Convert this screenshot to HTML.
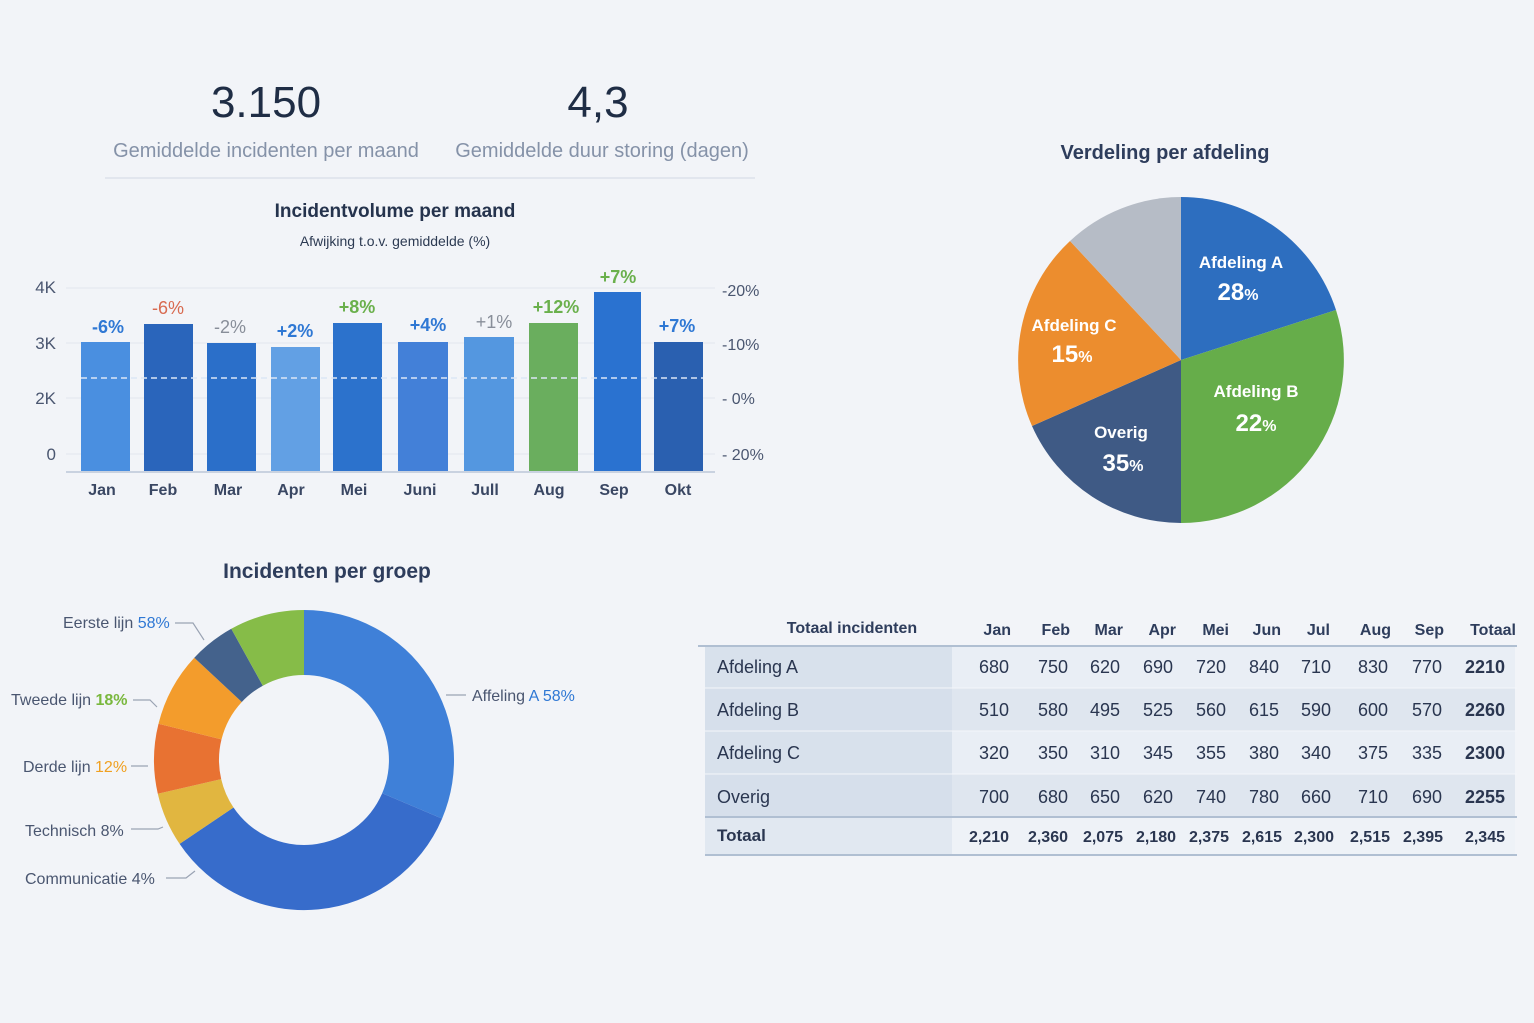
<!DOCTYPE html>
<html><head><meta charset="utf-8"><style>
html,body{margin:0;padding:0;background:#f2f4f8;}
svg{display:block;font-family:"Liberation Sans",sans-serif;}
</style></head><body>
<svg width="1534" height="1023" viewBox="0 0 1534 1023" xmlns="http://www.w3.org/2000/svg">
<rect width="1534" height="1023" fill="#f2f4f8"/>
<!-- KPIs -->
<text x="266" y="117" text-anchor="middle" font-size="44" fill="#1f2d45">3.150</text>
<text x="598" y="117" text-anchor="middle" font-size="44" fill="#1f2d45">4,3</text>
<text x="266" y="157" text-anchor="middle" font-size="20" fill="#8592a8">Gemiddelde incidenten per maand</text>
<text x="602" y="157" text-anchor="middle" font-size="20" fill="#8592a8">Gemiddelde duur storing (dagen)</text>
<line x1="105" y1="178" x2="755" y2="178" stroke="#dde2ea" stroke-width="1.5"/>
<!-- Bar chart -->
<text x="395" y="217" text-anchor="middle" font-size="19" font-weight="bold" fill="#25334d">Incidentvolume per maand</text>
<text x="395" y="246" text-anchor="middle" font-size="14" fill="#2c3a52">Afwijking t.o.v. gemiddelde (%)</text>
<g stroke="#e2e6ee" stroke-width="1">
<line x1="66" y1="288" x2="715" y2="288"/><line x1="66" y1="343" x2="715" y2="343"/><line x1="66" y1="398" x2="715" y2="398"/><line x1="66" y1="454" x2="715" y2="454"/>
</g>
<g font-size="17" fill="#4a5670" text-anchor="end">
<text x="56" y="293">4K</text><text x="56" y="349">3K</text><text x="56" y="404">2K</text><text x="56" y="460">0</text>
</g>
<g font-size="16" fill="#4a5670">
<text x="722" y="296">-20%</text><text x="722" y="350">-10%</text><text x="722" y="404">- 0%</text><text x="722" y="460">- 20%</text>
</g>
<rect x="81" y="342" width="49" height="130" fill="#4a8fe0"/>
<rect x="144" y="324" width="49" height="148" fill="#2a65bb"/>
<rect x="207" y="343" width="49" height="129" fill="#2b6fc9"/>
<rect x="271" y="347" width="49" height="125" fill="#62a0e4"/>
<rect x="333" y="323" width="49" height="149" fill="#2c72cc"/>
<rect x="398" y="342" width="50" height="130" fill="#4380d8"/>
<rect x="464" y="337" width="50" height="135" fill="#5497e0"/>
<rect x="529" y="323" width="49" height="149" fill="#6aae5e"/>
<rect x="594" y="292" width="47" height="180" fill="#2a72d0"/>
<rect x="654" y="342" width="49" height="130" fill="#2a60b0"/>
<line x1="81" y1="378" x2="703" y2="378" stroke="#dbe6f5" stroke-width="1.5" stroke-dasharray="6,4"/>
<line x1="66" y1="472" x2="715" y2="472" stroke="#c9d2e0" stroke-width="2"/>
<g font-size="18" font-weight="bold" text-anchor="middle">
<text x="108" y="333" fill="#2f78d4">-6%</text>
<text x="168" y="314" fill="#d86a50" font-weight="normal">-6%</text>
<text x="230" y="333" fill="#888e99" font-weight="normal">-2%</text>
<text x="295" y="337" fill="#2f78d4">+2%</text>
<text x="357" y="313" fill="#6ab04c">+8%</text>
<text x="428" y="331" fill="#2f78d4">+4%</text>
<text x="494" y="328" fill="#888e99" font-weight="normal">+1%</text>
<text x="556" y="313" fill="#6ab04c">+12%</text>
<text x="618" y="283" fill="#6ab04c">+7%</text>
<text x="677" y="332" fill="#2f78d4">+7%</text>
</g>
<g font-size="16" font-weight="bold" fill="#3a4763" text-anchor="middle">
<text x="102" y="495">Jan</text><text x="163" y="495">Feb</text><text x="228" y="495">Mar</text><text x="291" y="495">Apr</text><text x="354" y="495">Mei</text><text x="420" y="495">Juni</text><text x="485" y="495">Jull</text><text x="549" y="495">Aug</text><text x="614" y="495">Sep</text><text x="678" y="495">Okt</text>
</g>
<!-- Pie -->
<text x="1165" y="159" text-anchor="middle" font-size="20" font-weight="bold" fill="#2e3d5c">Verdeling per afdeling</text>
<path d="M1181,360 L1181,197 A163,163 0 0 1 1336,310 Z" fill="#2d6ebf"/>
<path d="M1181,360 L1336,310 A163,163 0 0 1 1181,523 Z" fill="#66ad4a"/>
<path d="M1181,360 L1181,523 A163,163 0 0 1 1032,426 Z" fill="#3f5a85"/>
<path d="M1181,360 L1032,426 A163,163 0 0 1 1070,241 Z" fill="#ec8d2e"/>
<path d="M1181,360 L1070,241 A163,163 0 0 1 1181,197 Z" fill="#b6bcc6"/>
<g fill="#fff" font-weight="bold" text-anchor="middle">
<text x="1241" y="268" font-size="17">Afdeling A</text>
<text x="1238" y="300" font-size="24">28<tspan font-size="16">%</tspan></text>
<text x="1074" y="331" font-size="17">Afdeling C</text>
<text x="1072" y="362" font-size="24">15<tspan font-size="16">%</tspan></text>
<text x="1256" y="397" font-size="17">Afdeling B</text>
<text x="1256" y="431" font-size="24">22<tspan font-size="16">%</tspan></text>
<text x="1121" y="438" font-size="17">Overig</text>
<text x="1123" y="471" font-size="24">35<tspan font-size="16">%</tspan></text>
</g>
<!-- Donut -->
<text x="327" y="578" text-anchor="middle" font-size="21" font-weight="bold" fill="#2e3d5c">Incidenten per groep</text>
<path d="M304,610 A150,150 0 0 1 442.1,818.6 L382.2,793.2 A85,85 0 0 0 304,675 Z" fill="#3f80d8"/>
<path d="M442.1,818.6 A150,150 0 0 1 179.6,843.9 L233.5,807.5 A85,85 0 0 0 382.2,793.2 Z" fill="#376ccb"/>
<path d="M179.6,843.9 A150,150 0 0 1 157.8,793.7 L221.2,779.1 A85,85 0 0 0 233.5,807.5 Z" fill="#e1b640"/>
<path d="M157.8,793.7 A150,150 0 0 1 158.5,723.7 L221.5,739.4 A85,85 0 0 0 221.2,779.1 Z" fill="#e87232"/>
<path d="M158.5,723.7 A150,150 0 0 1 194.3,657.7 L241.8,702 A85,85 0 0 0 221.5,739.4 Z" fill="#f39c2c"/>
<path d="M194.3,657.7 A150,150 0 0 1 231.3,628.8 L262.8,685.7 A85,85 0 0 0 241.8,702 Z" fill="#44628c"/>
<path d="M231.3,628.8 A150,150 0 0 1 304,610 L304,675 A85,85 0 0 0 262.8,685.7 Z" fill="#86bc48"/>
<g stroke="#9aa3b3" stroke-width="1.2" fill="none">
<polyline points="175,623 193,623 204,640"/>
<polyline points="133,700 150,700 157,707"/>
<polyline points="131,766 148,766"/>
<polyline points="131,829 158,829 163,827"/>
<polyline points="166,878 186,878 195,871"/>
<line x1="446" y1="695" x2="466" y2="695"/>
</g>
<g font-size="16" fill="#4a5670">
<text x="63" y="628">Eerste lijn <tspan fill="#2f78d4">58%</tspan></text>
<text x="11" y="705">Tweede lijn <tspan fill="#7ab83e" font-weight="bold">18%</tspan></text>
<text x="23" y="772">Derde lijn <tspan fill="#f0a020">12%</tspan></text>
<text x="25" y="836">Technisch 8%</text>
<text x="25" y="884">Communicatie 4%</text>
<text x="472" y="701">Affeling <tspan fill="#2f78d4">A 58%</tspan></text>
</g>
<!-- Table -->
<rect x="705" y="646" width="810" height="42" fill="#e9eef5"/>
<rect x="705" y="688" width="810" height="43" fill="#dfe6ef"/>
<rect x="705" y="731" width="810" height="43" fill="#e9eef5"/>
<rect x="705" y="774" width="810" height="43" fill="#dfe6ef"/>
<rect x="705" y="817" width="810" height="38" fill="#eef2f7"/>
<rect x="705" y="646" width="247" height="171" fill="#d3ddea" opacity="0.8"/>
<rect x="705" y="817" width="247" height="38" fill="#e1e8f1"/>
<line x1="698" y1="646" x2="1517" y2="646" stroke="#b0bfd2" stroke-width="2"/>
<line x1="705" y1="817" x2="1517" y2="817" stroke="#b0bfd2" stroke-width="2"/>
<line x1="705" y1="855" x2="1517" y2="855" stroke="#b0bfd2" stroke-width="2"/>
<line x1="705" y1="688" x2="1517" y2="688" stroke="#f4f6fa" stroke-width="1"/>
<line x1="705" y1="731" x2="1517" y2="731" stroke="#f4f6fa" stroke-width="1"/>
<line x1="705" y1="774" x2="1517" y2="774" stroke="#f4f6fa" stroke-width="1"/>
<g font-size="16" font-weight="bold" fill="#2e3d5c">
<text x="852" y="633" text-anchor="middle">Totaal incidenten</text>
<g text-anchor="end">
<text x="1011" y="635">Jan</text><text x="1070" y="635">Feb</text><text x="1123" y="635">Mar</text><text x="1176" y="635">Apr</text><text x="1229" y="635">Mei</text><text x="1281" y="635">Jun</text><text x="1330" y="635">Jul</text><text x="1391" y="635">Aug</text><text x="1444" y="635">Sep</text><text x="1516" y="635">Totaal</text>
</g>
</g>
<g font-size="18" fill="#2a3650">
<text x="717" y="673">Afdeling A</text><text x="717" y="716">Afdeling B</text><text x="717" y="759">Afdeling C</text><text x="717" y="803">Overig</text>
<text x="717" y="841" font-weight="bold" font-size="17">Totaal</text>
<g text-anchor="end">
<text x="1009" y="673">680</text><text x="1068" y="673">750</text><text x="1120" y="673">620</text><text x="1173" y="673">690</text><text x="1226" y="673">720</text><text x="1279" y="673">840</text><text x="1331" y="673">710</text><text x="1388" y="673">830</text><text x="1442" y="673">770</text><text x="1505" y="673" font-weight="bold">2210</text>
<text x="1009" y="716">510</text><text x="1068" y="716">580</text><text x="1120" y="716">495</text><text x="1173" y="716">525</text><text x="1226" y="716">560</text><text x="1279" y="716">615</text><text x="1331" y="716">590</text><text x="1388" y="716">600</text><text x="1442" y="716">570</text><text x="1505" y="716" font-weight="bold">2260</text>
<text x="1009" y="759">320</text><text x="1068" y="759">350</text><text x="1120" y="759">310</text><text x="1173" y="759">345</text><text x="1226" y="759">355</text><text x="1279" y="759">380</text><text x="1331" y="759">340</text><text x="1388" y="759">375</text><text x="1442" y="759">335</text><text x="1505" y="759" font-weight="bold">2300</text>
<text x="1009" y="803">700</text><text x="1068" y="803">680</text><text x="1120" y="803">650</text><text x="1173" y="803">620</text><text x="1226" y="803">740</text><text x="1279" y="803">780</text><text x="1331" y="803">660</text><text x="1388" y="803">710</text><text x="1442" y="803">690</text><text x="1505" y="803" font-weight="bold">2255</text>
<g font-weight="bold" font-size="16">
<text x="1009" y="842">2,210</text><text x="1068" y="842">2,360</text><text x="1123" y="842">2,075</text><text x="1176" y="842">2,180</text><text x="1229" y="842">2,375</text><text x="1282" y="842">2,615</text><text x="1334" y="842">2,300</text><text x="1390" y="842">2,515</text><text x="1443" y="842">2,395</text><text x="1505" y="842">2,345</text>
</g>
</g>
</g>
</svg>
</body></html>
